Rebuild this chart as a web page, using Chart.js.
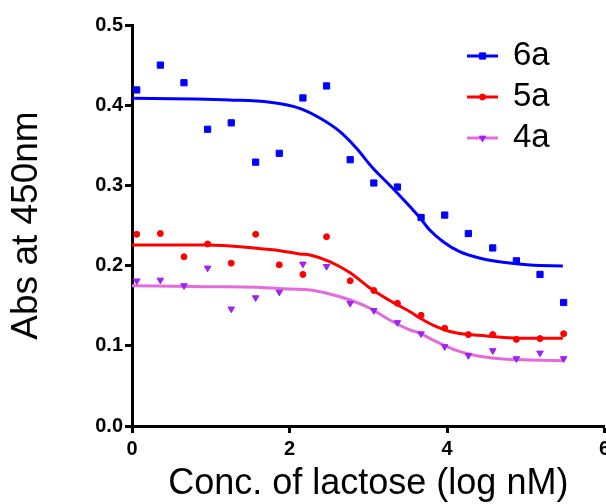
<!DOCTYPE html>
<html><head><meta charset="utf-8">
<script src="https://cdn.jsdelivr.net/npm/chart.js@4.4.1/dist/chart.umd.min.js"></script>
<style>html,body{margin:0;padding:0;background:#fff;overflow:hidden}canvas{display:block}</style>
</head><body>
<canvas id="c" width="606" height="504"></canvas>
<script>
// ---- data ----
const seriesNames = ['6a', '5a', '4a'];
const concLog = [0.06, 0.36, 0.66, 0.96, 1.26, 1.57, 1.87, 2.17, 2.47, 2.77, 3.07, 3.37, 3.67, 3.97, 4.27, 4.58, 4.88, 5.18, 5.48];
const abs6a = [0.419, 0.450, 0.428, 0.370, 0.378, 0.329, 0.340, 0.409, 0.424, 0.332, 0.303, 0.298, 0.260, 0.263, 0.240, 0.222, 0.206, 0.189, 0.154];
const abs5a = [0.239, 0.240, 0.211, 0.227, 0.203, 0.239, 0.201, 0.189, 0.236, 0.181, 0.169, 0.153, 0.138, 0.122, 0.114, 0.114, 0.108, 0.109, 0.115];
const abs4a = [0.181, 0.182, 0.175, 0.197, 0.146, 0.160, 0.167, 0.202, 0.199, 0.153, 0.144, 0.129, 0.115, 0.099, 0.088, 0.094, 0.084, 0.091, 0.084];

// fitted curves
const fitX6a = [0.0, 0.78, 1.24, 1.75, 2.13, 2.39, 2.64, 2.85, 3.06, 3.27, 3.49, 3.66, 3.78, 3.95, 4.16, 4.42, 4.71, 5.05, 5.47];
const fitY6a = [0.4086, 0.4077, 0.4065, 0.4036, 0.3961, 0.3837, 0.3670, 0.3463, 0.3213, 0.3005, 0.2777, 0.2590, 0.2444, 0.2298, 0.2173, 0.2091, 0.2041, 0.2007, 0.1995];
const fitX5a = [0.0, 0.95, 1.58, 1.88, 2.13, 2.26, 2.51, 2.77, 3.02, 3.27, 3.53, 3.66, 3.82, 4.08, 4.50, 4.92, 5.47];
const fitY5a = [0.2257, 0.2257, 0.2216, 0.2186, 0.2145, 0.2132, 0.2049, 0.1910, 0.1720, 0.1565, 0.1425, 0.1343, 0.1259, 0.1168, 0.1122, 0.1094, 0.1094];
const fitX4a = [0.0, 0.95, 1.58, 2.01, 2.26, 2.51, 2.77, 3.02, 3.27, 3.53, 3.66, 3.82, 4.08, 4.33, 4.71, 5.05, 5.47];
const fitY4a = [0.1749, 0.1737, 0.1729, 0.1708, 0.1696, 0.1646, 0.1571, 0.1468, 0.1322, 0.1197, 0.1156, 0.1072, 0.0956, 0.0885, 0.0835, 0.0823, 0.0814];

const xTicks = [0, 2, 4, 6];
const yTicks = [0.0, 0.1, 0.2, 0.3, 0.4, 0.5];
const xTitle = 'Conc. of lactose (log nM)';
const yTitle = 'Abs at 450nm';

// ---- styles ----
const FONT = "'Liberation Sans', Arial, Helvetica, sans-serif";
const lineColors = ['#0000FF', '#FF0000', '#E36BDB'];
const markColors = ['#0000FF', '#FF0000', '#A020F0'];
const markStyles = ['rect', 'circle', 'triangle'];
const markRadius = [4.4, 3.0, 3.8];
const markRot = [0, 0, 180];

const pts = (xs, ys) => xs.map((x, i) => ({x: x, y: ys[i]}));
const rawSets = [abs6a, abs5a, abs4a];
const fitSets = [[fitX6a, fitY6a], [fitX5a, fitY5a], [fitX4a, fitY4a]];

const datasets = [];
for (let i = 0; i < 3; i++) {
  datasets.push({
    label: seriesNames[i] + ' fit',
    data: pts(fitSets[i][0], fitSets[i][1]),
    showLine: true,
    borderColor: lineColors[i],
    borderWidth: 3,
    pointRadius: 0,
    cubicInterpolationMode: 'monotone',
    fill: false,
    order: 5
  });
}
for (let i = 0; i < 3; i++) {
  datasets.push({
    label: seriesNames[i],
    data: pts(concLog, rawSets[i]),
    showLine: false,
    pointStyle: markStyles[i],
    pointRadius: markRadius[i],
    pointRotation: markRot[i],
    backgroundColor: markColors[i],
    borderColor: markColors[i],
    pointBorderWidth: 1,
    order: 1
  });
}

const legendPlugin = {
  id: 'customLegend',
  afterDraw(chart) {
    const ctx = chart.ctx;
    ctx.save();
    for (let i = 0; i < 3; i++) {
      const y = 56 + 41 * i;
      ctx.strokeStyle = lineColors[i];
      ctx.lineWidth = 3;
      ctx.beginPath();
      ctx.moveTo(467, y);
      ctx.lineTo(498, y);
      ctx.stroke();
      ctx.fillStyle = markColors[i];
      ctx.strokeStyle = markColors[i];
      ctx.lineWidth = 1;
      Chart.helpers.drawPoint(ctx, {pointStyle: markStyles[i], radius: markRadius[i], rotation: markRot[i], borderWidth: 1}, 482.5, y);
      ctx.fillStyle = '#000';
      ctx.font = '33px ' + FONT;
      ctx.textAlign = 'left';
      ctx.textBaseline = 'middle';
      ctx.fillText(seriesNames[i], 513, y);
    }
    ctx.restore();
  }
};

new Chart(document.getElementById('c'), {
  type: 'scatter',
  data: {datasets: datasets},
  plugins: [legendPlugin],
  options: {
    responsive: false,
    animation: false,
    devicePixelRatio: 1,
    layout: {autoPadding: false, padding: {top: 25, right: 1.4, bottom: 0, left: 0}},
    plugins: {legend: {display: false}, tooltip: {enabled: false}},
    scales: {
      x: {
        type: 'linear', min: 0, max: 6,
        afterBuildTicks: s => { s.ticks = xTicks.map(v => ({value: v})); },
        afterFit: s => { s.height = 78; s.paddingLeft = 0; s.paddingRight = 0; },
        ticks: {color: '#000', font: {family: FONT, size: 20, weight: 'bold'}, padding: 4, maxRotation: 0, autoSkip: false,
                callback: v => String(v)},
        grid: {display: true, drawOnChartArea: false, drawTicks: true, tickLength: 7, tickWidth: 3, tickColor: '#000'},
        border: {display: true, color: '#000', width: 3},
        title: {display: true, text: xTitle, color: '#000', font: {family: FONT, size: 36, lineHeight: 1}, padding: {top: 0, bottom: 1.5}}
      },
      y: {
        type: 'linear', min: 0, max: 0.5,
        afterBuildTicks: s => { s.ticks = yTicks.map(v => ({value: v})); },
        afterFit: s => { s.width = 132; s.paddingTop = 0; s.paddingBottom = 0; },
        ticks: {color: '#000', font: {family: FONT, size: 20, weight: 'bold'}, padding: 2, autoSkip: false,
                callback: v => Number(v).toFixed(1)},
        grid: {display: true, drawOnChartArea: false, drawTicks: true, tickLength: 7, tickWidth: 3, tickColor: '#000'},
        border: {display: true, color: '#000', width: 3},
        title: {display: true, text: yTitle, color: '#000', font: {family: FONT, size: 37, lineHeight: 1}, padding: {top: 8.7, bottom: 0}}
      }
    }
  }
});
</script>
</body></html>
